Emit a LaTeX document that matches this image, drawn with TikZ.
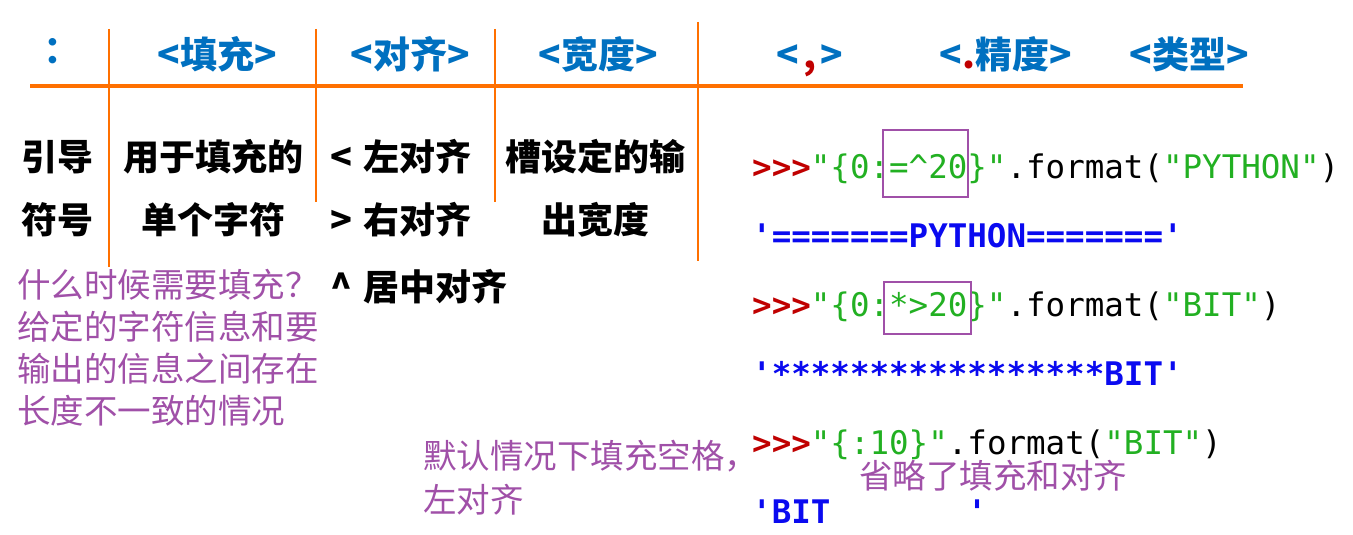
\documentclass[tikz,border=0pt]{standalone}
\usepackage{fontspec}
\newfontfamily\cjk{Noto Sans CJK SC}
\newfontfamily\mono{DejaVu Sans Mono}
\newfontfamily\lat{Lato}
\definecolor{hblue}{HTML}{0070C0}
\definecolor{cred}{HTML}{C00000}
\definecolor{cgreen}{HTML}{22B022}
\definecolor{cblue}{HTML}{0A0AF0}
\definecolor{cpurple}{HTML}{A050A8}
\definecolor{corange}{HTML}{FF7000}
\tikzset{
  head/.style={font=\cjk\bfseries\fontsize{37}{37}\selectfont, text=hblue, inner sep=0pt, text height=32.5pt, text depth=4.5pt},
  cell/.style={font=\cjk\bfseries\fontsize{36}{36}\selectfont, text=black, inner sep=0pt},
  note/.style={font=\cjk\fontsize{33.5}{42}\selectfont, text=cpurple, inner sep=0pt, align=left},
  code/.style={font=\mono\fontsize{32.5}{32.5}\selectfont, inner sep=0pt, anchor=base west},
  rule/.style={draw=corange, line width=2pt},
  hrule/.style={draw=corange, line width=4pt},
  hl/.style={draw=cpurple, line width=2pt}
}
\newcommand{\prompt}{{\bfseries\color{cred}>>>}}
\begin{document}
\begin{tikzpicture}[x=1pt,y=-1pt]
\useasboundingbox[fill=white] (0,0) rectangle (1353,535);
% rules
\coordinate (h0) at (30,86); \coordinate (h1) at (1243,86);
\draw[hrule] (h0) -- (h1);
\coordinate (v1a) at (109,29); \coordinate (v1b) at (109,267);
\coordinate (v2a) at (316,29); \coordinate (v2b) at (316,202);
\coordinate (v3a) at (495,29); \coordinate (v3b) at (495,202);
\coordinate (v4a) at (698,22); \coordinate (v4b) at (698,261);
\draw[rule] (v1a) -- (v1b);
\draw[rule] (v2a) -- (v2b);
\draw[rule] (v3a) -- (v3b);
\draw[rule] (v4a) -- (v4b);
% header
\node[font=\lat\bfseries\fontsize{50}{50}\selectfont, text=hblue, inner sep=0pt, anchor=base] (colon) at (53,64) {:};
\node[head] (fill) at (217,55) {<填充>};
\node[head] (align) at (410,55) {<对齐>};
\node[head] (width) at (598,55) {<宽度>};
\node[head] (comma) at (810,55) {<\hspace{4pt}{\color{cred},}\hspace{4pt}>};
\node[head] (prec) at (1006,55) {<{\color{cred}.}精度>};
\node[head] (type) at (1189,55) {<类型>};
% table cells
\node[cell] (lead1) at (57,157) {引导};
\node[cell] (lead2) at (57,220) {符号};
\node[cell] (fc1) at (213,157) {用于填充的};
\node[cell] (fc2) at (213,220) {单个字符};
\node[cell, anchor=west] (al1) at (330,157) {<\hspace{11pt}左对齐};
\node[cell, anchor=west] (al2) at (330,220) {>\hspace{11pt}右对齐};
\node[cell, anchor=west] (al3) at (330,287) {\textasciicircum\hspace{11pt}居中对齐};
\node[cell] (wd1) at (595,157) {槽设定的输};
\node[cell] (wd2) at (595,220) {出宽度};
% notes
\node[note, anchor=north west] (why) at (17,269) {什么时候需要填充？\\给定的字符信息和要\\输出的信息之间存在\\长度不一致的情况};
\node[note, anchor=north west, font=\cjk\fontsize{33.5}{44}\selectfont] (dflt) at (423,440) {默认情况下填充空格，\\左对齐};
% code
\node[code] (c1) at (752,178) {\prompt{\color{cgreen}"\{0:=\textasciicircum20\}"}.format({\color{cgreen}"PYTHON"})};
\node[code] (c2) at (752,247) {\bfseries\color{cblue}'=======PYTHON======='};
\node[code] (c3) at (752,316) {\prompt{\color{cgreen}"\{0:*>20\}"}.format({\color{cgreen}"BIT"})};
\node[code] (c4) at (752,385) {\bfseries\color{cblue}'*****************BIT'};
\node[code] (c5) at (752,454) {\prompt{\color{cgreen}"\{:10\}"}.format({\color{cgreen}"BIT"})};
\node[code] (c6) at (752,523) {\bfseries\color{cblue}'BIT\ \ \ \ \ \ \ '};
\node[note, anchor=west] (omit) at (859,476) {省略了填充和对齐};
% highlight boxes
\draw[hl] (883,130) rectangle (968,197);
\draw[hl] (884,282) rectangle (971,334);
\end{tikzpicture}
\end{document}
